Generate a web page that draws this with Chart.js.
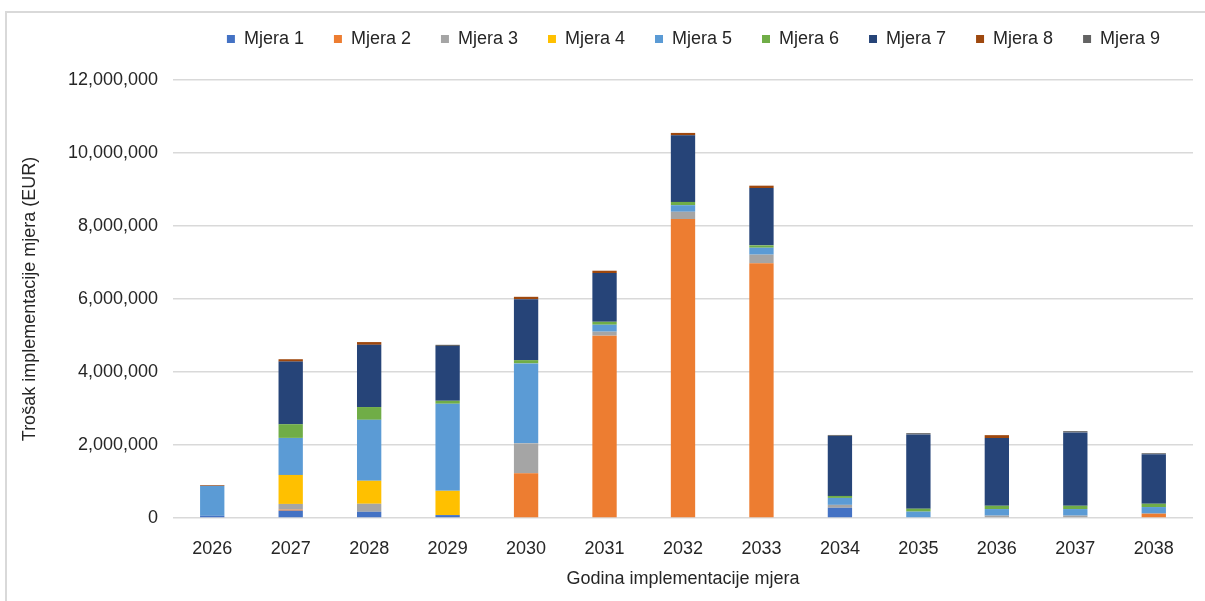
<!DOCTYPE html>
<html>
<head>
<meta charset="utf-8">
<script src="https://cdn.jsdelivr.net/npm/chart.js@4"></script>
<style>
  body { margin: 0; background: #fff; }
  #frame { position: absolute; left: 5px; top: 11px; width: 1300px; height: 700px; border: 2px solid #d9d9d9; }
  #wrap { position: absolute; left: 0; top: 0; width: 1205px; height: 601px; }
</style>
</head>
<body>
<div id="frame"></div>
<div id="wrap"><canvas id="costChart"></canvas></div>
<script>
// Godine i troškovi po mjerama (EUR), očitano s grafa
const years = ['2026', '2027', '2028', '2029', '2030', '2031', '2032', '2033', '2034', '2035', '2036', '2037', '2038'];

const mjera1 = [60000, 200000, 170000, 80000, 0, 0, 0, 0, 280000, 0, 0, 0, 0];
const mjera2 = [0, 30000, 0, 0, 1225000, 4995000, 8190000, 6980000, 0, 0, 0, 0, 120000];
const mjera3 = [0, 155000, 220000, 0, 820000, 110000, 200000, 235000, 80000, 0, 65000, 65000, 0];
const mjera4 = [0, 795000, 630000, 665000, 0, 0, 0, 0, 0, 0, 0, 0, 0];
const mjera5 = [820000, 1015000, 1670000, 2385000, 2190000, 190000, 180000, 190000, 190000, 175000, 180000, 180000, 180000];
const mjera6 = [0, 375000, 350000, 80000, 90000, 80000, 90000, 65000, 55000, 80000, 90000, 90000, 90000];
const mjera7 = [0, 1715000, 1705000, 1500000, 1670000, 1335000, 1825000, 1570000, 1645000, 2035000, 1855000, 2010000, 1360000];
const mjera8 = [20000, 65000, 75000, 0, 65000, 65000, 65000, 65000, 0, 0, 80000, 0, 0];
const mjera9 = [0, 0, 0, 35000, 0, 0, 0, 0, 25000, 35000, 0, 35000, 25000];

const seriesNames = ['Mjera 1', 'Mjera 2', 'Mjera 3', 'Mjera 4', 'Mjera 5', 'Mjera 6', 'Mjera 7', 'Mjera 8', 'Mjera 9'];
const seriesValues = [mjera1, mjera2, mjera3, mjera4, mjera5, mjera6, mjera7, mjera8, mjera9];
const seriesColors = ['#4472C4', '#ED7D31', '#A5A5A5', '#FFC000', '#5B9BD5', '#70AD47', '#264478', '#9E480E', '#636363'];

const yTicks = [0, 2000000, 4000000, 6000000, 8000000, 10000000, 12000000];

const textColor = '#262626';
const fontFamily = '"Liberation Sans", Arial, sans-serif';

// legend sits higher and a bit right of center, like in Excel
const legendTweak = {
  id: 'legendTweak',
  beforeInit(chart) {
    const fit = chart.legend.fit;
    chart.legend.fit = function () {
      fit.call(this);
      this.height += 22;
    };
  },
  afterLayout(chart) {
    chart.legend.left += 97;
    chart.legend.right += 97;
  }
};

document.addEventListener('DOMContentLoaded', function () {
  const datasets = seriesNames.map(function (name, i) {
    return {
      label: name,
      data: seriesValues[i],
      backgroundColor: seriesColors[i],
      borderWidth: 0,
      barPercentage: 0.31,
      categoryPercentage: 1
    };
  });

  new Chart(document.getElementById('costChart'), {
    type: 'bar',
    data: { labels: years, datasets: datasets },
    plugins: [legendTweak],
    options: {
      responsive: true,
      maintainAspectRatio: false,
      animation: false,
      layout: { padding: { left: 0, right: 12, top: 0, bottom: 0 } },
      plugins: {
        legend: {
          position: 'top',
          labels: {
            boxWidth: 8,
            boxHeight: 8,
            padding: 30,
            color: textColor,
            font: { family: fontFamily, size: 18 }
          }
        },
        tooltip: { enabled: false }
      },
      scales: {
        x: {
          stacked: true,
          grid: { display: false, drawTicks: false },
          border: { display: false },
          ticks: { color: textColor, padding: 20, font: { family: fontFamily, size: 18 } },
          title: {
            display: true,
            text: 'Godina implementacije mjera',
            color: textColor,
            font: { family: fontFamily, size: 18 },
            padding: { top: 0, bottom: 11 }
          },
          afterFit: function (scale) { scale.height = 83; }
        },
        y: {
          stacked: true,
          min: 0,
          max: 12000000,
          afterBuildTicks: function (scale) {
            scale.ticks = yTicks.map(function (v) { return { value: v }; });
          },
          grid: { color: '#d9d9d9', lineWidth: 1.5, drawTicks: false },
          border: { display: false },
          ticks: {
            color: textColor,
            padding: 15,
            font: { family: fontFamily, size: 18 },
            callback: function (v) { return v.toLocaleString('en-US'); }
          },
          title: {
            display: true,
            text: 'Trošak implementacije mjera (EUR)',
            color: textColor,
            font: { family: fontFamily, size: 18 },
            padding: { top: 19, bottom: 0 }
          },
          afterFit: function (scale) { scale.width = 173; }
        }
      }
    }
  });
});
</script>
</body>
</html>
